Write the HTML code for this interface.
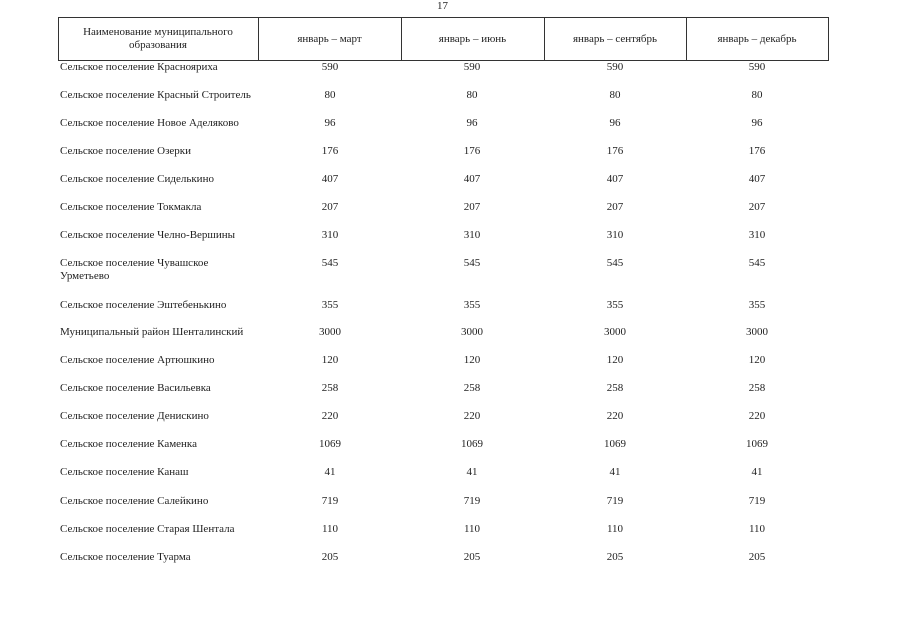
<!DOCTYPE html>
<html><head><meta charset="utf-8"><style>
body{margin:0;width:905px;height:640px;background:#fff;position:relative;overflow:hidden;font-family:"Liberation Serif",serif;font-size:11px;color:#222}
.a{position:absolute;white-space:nowrap;line-height:13px}
.n{position:absolute;width:80px;text-align:center;line-height:13px}
.box{position:absolute;left:58px;top:17px;width:769px;height:42px;border:1px solid #333}
.v{position:absolute;top:17px;height:44px;width:1px;background:#333}
.h{position:absolute;top:17px;height:44px;display:flex;align-items:center;justify-content:center;text-align:center;line-height:13px}
</style></head><body>
<div class="a" style="left:437px;top:0px">17</div>
<div class="box"></div>
<div class="v" style="left:258px"></div><div class="v" style="left:401px"></div><div class="v" style="left:544px"></div><div class="v" style="left:686px"></div>
<div class="h" style="left:58px;width:200px">Наименование муниципального<br>образования</div>
<div class="h" style="left:258px;width:143px">январь – март</div>
<div class="h" style="left:401px;width:143px">январь – июнь</div>
<div class="h" style="left:544px;width:142px">январь – сентябрь</div>
<div class="h" style="left:686px;width:142px">январь – декабрь</div>
<div id="rows"></div>
<script>
var d=[[60,"Сельское поселение Краснояриха","590"],[88,"Сельское поселение Красный Строитель","80"],[116,"Сельское поселение Новое Аделяково","96"],[144,"Сельское поселение Озерки","176"],[172,"Сельское поселение Сиделькино","407"],[200,"Сельское поселение Токмакла","207"],[228,"Сельское поселение Челно-Вершины","310"],[256,"Сельское поселение Чувашское<br>Урметьево","545"],[298,"Сельское поселение Эштебенькино","355"],[325,"Муниципальный район Шенталинский","3000"],[353,"Сельское поселение Артюшкино","120"],[381,"Сельское поселение Васильевка","258"],[409,"Сельское поселение Денискино","220"],[437,"Сельское поселение Каменка","1069"],[465,"Сельское поселение Канаш","41"],[494,"Сельское поселение Салейкино","719"],[522,"Сельское поселение Старая Шентала","110"],[550,"Сельское поселение Туарма","205"]];
var h="";d.forEach(function(r){h+='<div class="a" style="left:60px;top:'+(r[0]+1)+'px">'+r[1]+'</div>';[330,472,615,757].forEach(function(c){h+='<div class="n" style="left:'+(c-40)+'px;top:'+(r[0]+1)+'px">'+r[2]+'</div>';});});
document.getElementById("rows").innerHTML=h;
</script>
</body></html>
